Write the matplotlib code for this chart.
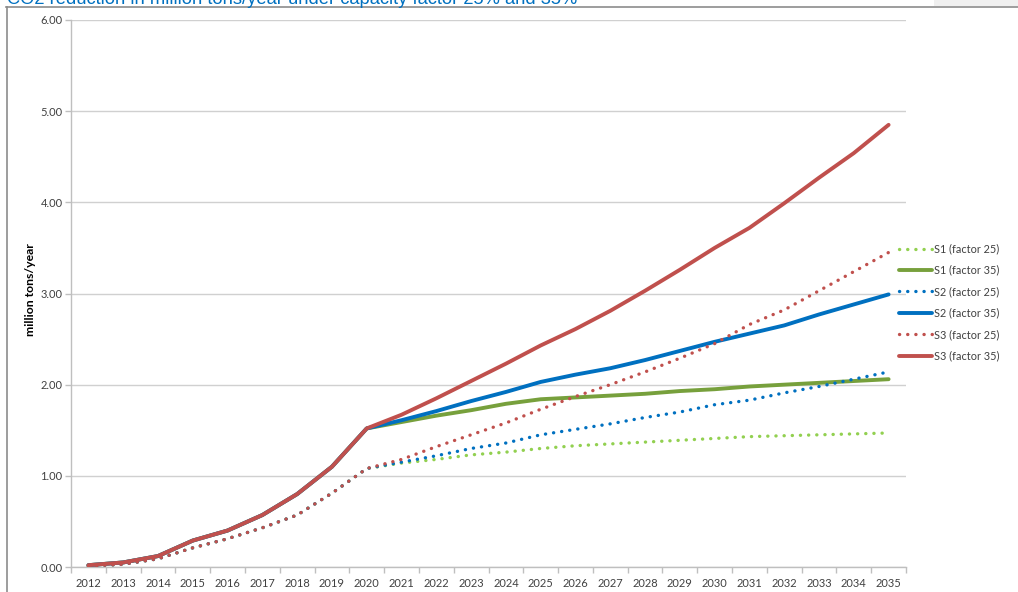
import matplotlib
matplotlib.use("Agg")
import matplotlib.pyplot as plt
from matplotlib.lines import Line2D
from matplotlib.patches import Rectangle

years = list(range(2012, 2036))
year_labels = [str(y) for y in years]

s1_f25 = [0.01, 0.03, 0.09, 0.21, 0.31, 0.43, 0.57, 0.81, 1.08,
          1.14, 1.18, 1.23, 1.26, 1.30, 1.33, 1.35, 1.37, 1.39, 1.41, 1.43, 1.44, 1.45, 1.46, 1.47]
s1_f35 = [0.02, 0.05, 0.12, 0.29, 0.40, 0.57, 0.80, 1.10, 1.52,
          1.59, 1.66, 1.72, 1.79, 1.84, 1.86, 1.88, 1.90, 1.93, 1.95, 1.98, 2.00, 2.02, 2.04, 2.06]
s2_f25 = [0.01, 0.03, 0.09, 0.21, 0.31, 0.43, 0.57, 0.81, 1.08,
          1.15, 1.22, 1.30, 1.36, 1.45, 1.51, 1.57, 1.64, 1.70, 1.78, 1.83, 1.91, 1.98, 2.06, 2.14]
s2_f35 = [0.02, 0.05, 0.12, 0.29, 0.40, 0.57, 0.80, 1.10, 1.52,
          1.61, 1.71, 1.82, 1.92, 2.03, 2.11, 2.18, 2.27, 2.37, 2.47, 2.56, 2.65, 2.77, 2.88, 2.99]
s3_f25 = [0.01, 0.03, 0.09, 0.21, 0.31, 0.43, 0.57, 0.81, 1.08,
          1.18, 1.32, 1.45, 1.58, 1.73, 1.87, 2.00, 2.14, 2.29, 2.45, 2.66, 2.82, 3.03, 3.24, 3.45]
s3_f35 = [0.02, 0.05, 0.12, 0.29, 0.40, 0.57, 0.80, 1.10, 1.52,
          1.67, 1.85, 2.04, 2.23, 2.43, 2.61, 2.81, 3.03, 3.26, 3.50, 3.72, 3.99, 4.27, 4.54, 4.85]

y_ticks = [0, 1, 2, 3, 4, 5, 6]
series = [
    ("S1 (factor 25)", s1_f25, "#92D050", "dot"),
    ("S1 (factor 35)", s1_f35, "#77A03C", "solid"),
    ("S2 (factor 25)", s2_f25, "#0070C0", "dot"),
    ("S2 (factor 35)", s2_f35, "#0070C0", "solid"),
    ("S3 (factor 25)", s3_f25, "#C0504D", "dot"),
    ("S3 (factor 35)", s3_f35, "#C0504D", "solid"),
]
title = "CO2 reduction in million tons/year under capacity factor 25% and 35%"

W, H = 1018, 592
fig = plt.figure(figsize=(W / 100, H / 100), dpi=100)
fig.patch.set_facecolor("white")

# outer frame and header strip
fig.add_artist(Rectangle((934 / W, 1 - 6 / H), 84 / W, 6 / H, transform=fig.transFigure,
                         facecolor="#f0f0f0", edgecolor="none"))
fig.add_artist(Line2D([6 / W, 1], [1 - 7 / H, 1 - 7 / H], transform=fig.transFigure,
                      color="#8c8c8c", lw=1.2))
fig.add_artist(Line2D([6.5 / W, 6.5 / W], [0, 1 - 7 / H], transform=fig.transFigure,
                      color="#8c8c8c", lw=1.2))
fig.text(7 / W, 1 - 4 / H, title, ha="left", va="baseline", fontsize=13.2,
         family="Liberation Sans", color="#0070C0")

ax = fig.add_axes([71 / W, 1 - 567 / H, (906 - 71) / W, (567 - 20) / H])
font = "Lato"
for label, vals, color, style in series:
    if style == "dot":
        ax.plot(years, vals, color=color, lw=2.4, linestyle=(0, (0.05, 2.4)),
                dash_capstyle="round", label=label, zorder=3)
    else:
        ax.plot(years, vals, color=color, lw=2.8, solid_capstyle="round",
                solid_joinstyle="round", label=label, zorder=3)

ax.set_xlim(2011.5, 2035.5)
ax.set_ylim(0, 6)
ax.set_yticks(y_ticks)
ax.set_yticklabels([f"{v:.2f}" for v in y_ticks], fontsize=8, family=font, color="#404040")
ax.set_xticks(years)
ax.set_xticklabels(year_labels, fontsize=8, family=font, color="#404040")
ax.set_xticks([y + 0.5 for y in [2011] + years], minor=True)
ax.tick_params(axis="x", which="major", length=0, pad=8)
ax.tick_params(axis="x", which="minor", length=4, color="#bfbfbf", width=1)
ax.tick_params(axis="y", length=4, color="#bfbfbf", width=1, pad=2)
ax.grid(axis="y", color="#d0d0d0", lw=1)
ax.set_axisbelow(True)
for s in ["top", "right"]:
    ax.spines[s].set_visible(False)
for s in ["left", "bottom"]:
    ax.spines[s].set_color("#bfbfbf")
    ax.spines[s].set_linewidth(1)

fig.text(30 / W, 1 - 290 / H, "million tons/year", rotation=90, ha="center", va="center",
         fontsize=8.8, fontweight="bold", family=font, color="black")

leg = fig.legend(loc="upper left", bbox_to_anchor=(895 / W, 1 - 239 / H), frameon=False,
                 prop={"family": font, "size": 7.8}, handlelength=3.0, handletextpad=0.2,
                 labelspacing=0.96, borderaxespad=0)
for t in leg.get_texts():
    t.set_color("#404040")

fig.savefig("out.png", dpi=100)
